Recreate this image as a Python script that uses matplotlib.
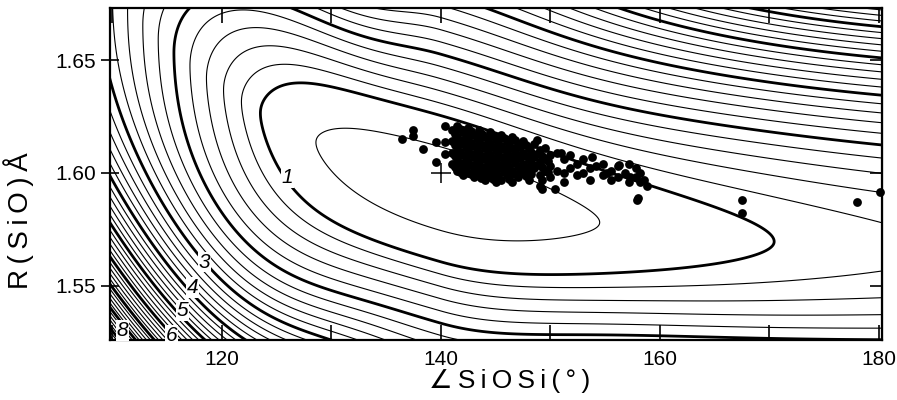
import numpy as np
import matplotlib.pyplot as plt

plt.rcParams['font.family'] = ['Liberation Sans', 'DejaVu Sans']

# Potential-energy surface for SiOSi angle vs SiO bond length (shape)
THETA_MIN = 140.0                      # angle of the minimum (+)
R_MIN = 1.60                           # bond length of the minimum (+)
BEND_LEFT = (0.00399, 3.14e-4)         # bending energy  a*d^2/(1+b*d^2), angles < min
BEND_RIGHT = (0.00368, 0.0026)         # same, angles > min
VALLEY_R = (1.561, 0.032, 23.0)        # valley floor R0 = r_inf + amp*exp(-d/scale)
V_SLOPE, V_ROUND = 37.0, 0.006         # narrow V-shaped well near the minimum
V_WIDTH = (13.1, 20.8)                 # how fast the V part fades (left, right)
LEFT_WIDTH = 8.3                       # how fast stretch terms grow left of min
K_LEFT_UP, K_LEFT_DN, C3_LEFT_DN = 250.0, 50.0, 1524.0
K_RIGHT_UP = (403.0, 21.8)             # stretch curvature (max, width) right of min
K_RIGHT_DN = (512.0, 20.8)

bold_levels = [1, 2, 3, 4, 5, 6, 7, 8, 9, 10]
thin_levels = [0.5] + [round(v, 1) for v in np.arange(1.2, 10.9, 0.2) if abs(v - round(v)) > 0.05]

# contour labels: text and where it sits
label_text = ['1', '3', '4', '5', '6', '8']
label_pos = [(126.0, 1.598), (118.4, 1.5604), (117.3, 1.549), (116.4, 1.539), (115.4, 1.528), (110.9, 1.530)]

# observed structures (angle in degrees, SiO length in A)
pts_angle = [136.4, 137.4, 137.4, 138.4, 139.5, 140.4, 140.4, 140.4, 139.5,
             141.0, 141.0, 141.0, 141.0,
             141.5, 141.5, 141.5, 141.5, 141.5,
             142.0, 142.0, 142.0, 142.0, 142.0,
             142.5, 142.5, 142.5, 142.5, 142.5,
             143.0, 143.0, 143.0, 143.0, 143.0,
             143.5, 143.5, 143.5, 143.5, 143.5,
             144.0, 144.0, 144.0, 144.0, 144.0,
             144.5, 144.5, 144.5, 144.5, 144.5,
             145.0, 145.0, 145.0, 145.0, 145.0,
             145.5, 145.5, 145.5, 145.5, 145.5,
             146.0, 146.0, 146.0, 146.0,
             146.5, 146.5, 146.5, 146.5, 146.5,
             147.0, 147.0, 147.0, 147.0,
             147.5, 147.5, 147.5, 147.5,
             148.0, 148.0, 148.0, 148.0,
             148.5, 148.5, 148.5,
             149.0, 149.0, 149.0, 149.0,
             149.5, 149.5, 149.5,
             150.0, 150.0, 150.0,
             150.6, 150.6, 151.2, 151.2, 151.2, 151.8, 151.8, 152.4, 152.4,
             153.0, 153.0, 153.6, 153.6, 154.2, 154.8, 154.8, 155.5, 155.5,
             156.2, 156.2, 156.8, 157.2, 157.2, 157.8, 157.8, 158.2, 158.2,
             142.0, 148.8, 151.0, 153.8, 155.2, 156.3, 157.3, 158.5, 158.8, 158.0,
             143.7, 149.2, 150.4, 142.0, 157.9,
             167.5, 167.5, 178.0, 180.1,
             141.25, 141.25, 141.25, 141.25,
             141.75, 141.75, 141.75, 141.75, 141.75,
             142.25, 142.25, 142.25, 142.25,
             142.75, 142.75, 142.75, 142.75, 142.75,
             143.25, 143.25, 143.25, 143.25,
             143.75, 143.75, 143.75, 143.75, 143.75,
             144.25, 144.25, 144.25, 144.25,
             144.75, 144.75, 144.75, 144.75, 144.75,
             145.25, 145.25, 145.25, 145.25,
             145.75, 145.75, 145.75, 145.75,
             146.25, 146.25, 146.25, 146.25,
             146.75, 146.75, 146.75, 146.75,
             147.25, 147.25, 147.25,
             147.75, 147.75, 147.75, 147.75,
             148.25, 148.25, 148.25,
             148.75, 148.75,
             149.25, 149.25, 149.25,
             149.75, 149.75]
pts_bond = [1.6151, 1.6191, 1.6164, 1.6107, 1.6138, 1.6209, 1.6138, 1.6084, 1.6049,
            1.619, 1.614, 1.609, 1.604,
            1.621, 1.616, 1.611, 1.606, 1.601,
            1.618, 1.613, 1.608, 1.603, 1.599,
            1.620, 1.615, 1.610, 1.605, 1.600,
            1.617, 1.612, 1.607, 1.602, 1.598,
            1.619, 1.614, 1.609, 1.604, 1.599,
            1.616, 1.611, 1.606, 1.601, 1.597,
            1.618, 1.613, 1.608, 1.603, 1.598,
            1.615, 1.610, 1.605, 1.600, 1.596,
            1.617, 1.612, 1.607, 1.602, 1.597,
            1.614, 1.609, 1.604, 1.599,
            1.616, 1.611, 1.606, 1.601, 1.596,
            1.613, 1.608, 1.603, 1.598,
            1.614, 1.609, 1.604, 1.600,
            1.611, 1.606, 1.601, 1.597,
            1.613, 1.607, 1.602,
            1.610, 1.605, 1.599, 1.594,
            1.611, 1.606, 1.601,
            1.608, 1.603, 1.598,
            1.609, 1.601, 1.606, 1.600, 1.596, 1.608, 1.602, 1.604, 1.599,
            1.606, 1.600, 1.602, 1.597, 1.603, 1.599, 1.604, 1.601, 1.597,
            1.603, 1.598, 1.600, 1.604, 1.596, 1.602, 1.598, 1.600, 1.596,
            1.619, 1.6147, 1.609, 1.607, 1.600, 1.6036, 1.598, 1.597, 1.594, 1.589,
            1.5978, 1.593, 1.593, 1.600, 1.588,
            1.588, 1.5822, 1.587, 1.5916,
            1.6175, 1.6125, 1.6075, 1.6025,
            1.6195, 1.6145, 1.6095, 1.6045, 1.6005,
            1.6165, 1.6115, 1.6065, 1.6015,
            1.6185, 1.6135, 1.6085, 1.6035, 1.5995,
            1.6155, 1.6105, 1.6055, 1.6005,
            1.6175, 1.6125, 1.6075, 1.6025, 1.5985,
            1.6145, 1.6095, 1.6045, 1.5995,
            1.6165, 1.6115, 1.6065, 1.6015, 1.5975,
            1.6135, 1.6085, 1.6035, 1.5985,
            1.6155, 1.6105, 1.6055, 1.6005,
            1.6125, 1.6075, 1.6025, 1.5975,
            1.6145, 1.6095, 1.6045, 1.5995,
            1.6115, 1.6065, 1.6015,
            1.6125, 1.6075, 1.6025, 1.5985,
            1.6095, 1.6045, 1.5995,
            1.6085, 1.6035,
            1.6075, 1.6025, 1.5970,
            1.6055, 1.6005]


def energy(th, r):
    d = th - THETA_MIN
    left = d < 0
    a = np.where(left, BEND_LEFT[0], BEND_RIGHT[0])
    b = np.where(left, BEND_LEFT[1], BEND_RIGHT[1])
    bend = a * d**2 / (1 + b * d**2)
    r0 = VALLEY_R[0] + VALLEY_R[1] * np.exp(-d / VALLEY_R[2])
    x = r - r0
    up = x > 0
    m = V_SLOPE * np.exp(-(d / np.where(left, V_WIDTH[0], V_WIDTH[1]))**2)
    v_part = m * (np.sqrt(x**2 + V_ROUND**2) - V_ROUND)
    # left of the minimum
    g = 1 - np.exp(-(d / LEFT_WIDTH)**2)
    left_part = np.where(up, K_LEFT_UP * g * x**2,
                         K_LEFT_DN * g * x**2 + C3_LEFT_DN * g * np.abs(x)**3)
    # right of the minimum
    kmax = np.where(up, K_RIGHT_UP[0], K_RIGHT_DN[0])
    kw = np.where(up, K_RIGHT_UP[1], K_RIGHT_DN[1])
    right_part = kmax * (1 - np.exp(-(d / kw)**2)) * x**2
    return bend + v_part + np.where(left, left_part, right_part)


th = np.linspace(108, 182, 600)
rr = np.linspace(1.515, 1.685, 500)
TH, RR = np.meshgrid(th, rr)
E = energy(TH, RR)

fig = plt.figure(figsize=(8.97, 4.0), dpi=100)
ax = fig.add_axes([0.1226, 0.15, 0.8606, 0.83])

ax.contour(TH, RR, E, levels=thin_levels, colors='black', linewidths=0.8)
ax.contour(TH, RR, E, levels=bold_levels, colors='black', linewidths=2.0)
for txt, (lx, ly) in zip(label_text, label_pos):
    ax.text(lx, ly, txt, fontsize=15, fontstyle='italic', ha='center', va='center',
            bbox=dict(facecolor='white', edgecolor='none', pad=0.6), zorder=4)

ax.scatter(pts_angle, pts_bond, s=40, color='black', linewidths=0, zorder=5, clip_on=False)
ax.plot([THETA_MIN], [R_MIN], marker='+', color='black', ms=14, mew=1.1, zorder=6)

ax.set_xlim(109.77, 180.27)
ax.set_ylim(1.5258, 1.6733)
ax.set_xticks([120, 140, 160, 180])
ax.set_xticks([110, 130, 150, 170], minor=True)
ax.set_yticks([1.55, 1.60, 1.65])
ax.set_yticklabels(['1.55', '1.60', '1.65'])
ax.tick_params(axis='x', which='both', direction='in', length=11, width=1.2,
               top=True, labelsize=15, pad=7)
ax.tick_params(axis='y', direction='inout', length=13, width=1.2, labelsize=15)
for s in ax.spines.values():
    s.set_linewidth(1.6)

right = ax.secondary_yaxis('right')
right.set_yticks([1.55, 1.60, 1.65])
right.tick_params(direction='in', length=9, width=1.2, labelright=False)

ax.set_xlabel('∠\u2009S\u2009i\u2009O\u2009S\u2009i\u2009(\u2009°\u2009)', fontsize=19)
ax.xaxis.set_label_coords(0.518, -0.088)
ax.set_ylabel('R\u2009(\u2009S\u2009i\u2009O\u2009)\u2009Å', fontsize=20)
ax.yaxis.set_label_coords(-0.098, 0.36)

fig.savefig('out.png', dpi=100)
